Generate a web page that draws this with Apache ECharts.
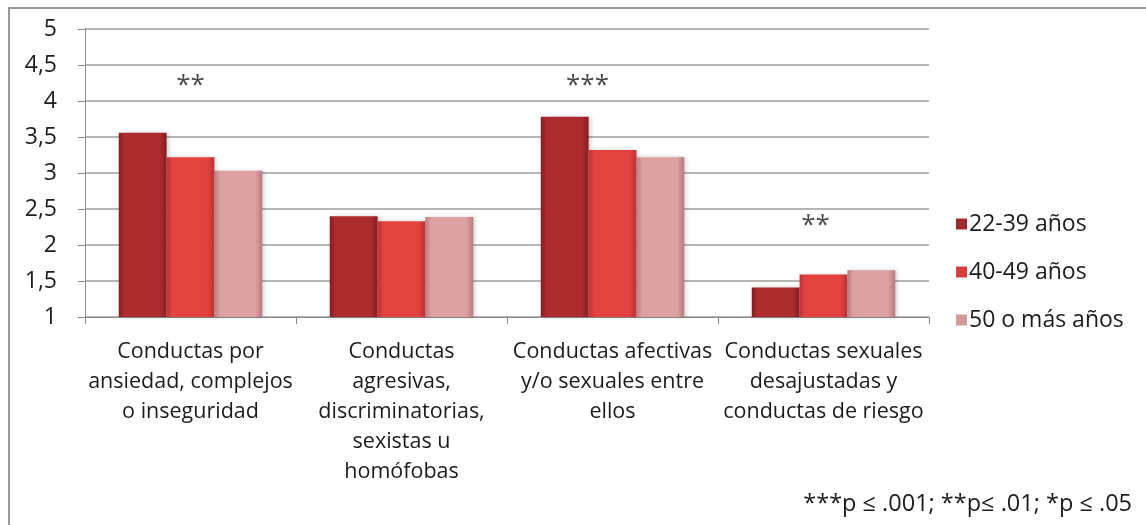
<!DOCTYPE html>
<html>
<head>
<meta charset="utf-8">
<script src="https://cdn.jsdelivr.net/npm/echarts@6/dist/echarts.min.js"></script>
<style>
  html, body { margin: 0; padding: 0; background: #ffffff; }
  #chart { width: 1146px; height: 525px; }
</style>
</head>
<body>
<div id="chart"></div>
<script>
// Categories (line breaks as shown under the axis)
const categories = [
  'Conductas por\nansiedad, complejos\no inseguridad',
  'Conductas\nagresivas,\ndiscriminatorias,\nsexistas u\nhomófobas',
  'Conductas afectivas\ny/o sexuales entre\nellos',
  'Conductas sexuales\ndesajustadas y\nconductas de riesgo'
];

// Mean scores per age group
const seriesNames = ['22-39 años', '40-49 años', '50 o más años'];
const values2239 = [3.56, 2.40, 3.78, 1.41];
const values4049 = [3.22, 2.33, 3.32, 1.59];
const values50 = [3.03, 2.39, 3.22, 1.65];

// Significance markers per category and the height they sit at
const sigMarks = ['**', '', '***', '**'];
const sigHeights = [4.22, null, 4.22, 2.27];

// Y axis tick values
const yTicks = [1, 1.5, 2, 2.5, 3, 3.5, 4, 4.5, 5];

const footnote = '***p \u2264 .001; **p\u2264 .01; *p \u2264 .05';

const FONT = 'Open Sans';
const TEXT = '#1c1c1c';

function barFill(edge, mid) {
  return {
    type: 'linear', x: 0, y: 0, x2: 1, y2: 0,
    colorStops: [
      { offset: 0, color: edge },
      { offset: 0.12, color: mid },
      { offset: 0.85, color: mid },
      { offset: 1, color: edge }
    ]
  };
}

const fills = [
  barFill('#861c20', '#ad2d2f'),
  barFill('#bf3033', '#e2433f'),
  barFill('#b9797c', '#dea1a3')
];
const legendFills = ['#a22a2d', '#d93c3c', '#d39a9c'];
const dataSets = [values2239, values4049, values50];

const barSeries = seriesNames.map((name, i) => ({
  name: name,
  type: 'bar',
  data: dataSets[i],
  barGap: '0%',
  barCategoryGap: '32%',
  itemStyle: {
    color: fills[i],
    shadowColor: 'rgba(0,0,0,0.18)',
    shadowBlur: 4,
    shadowOffsetX: 2
  },
  emphasis: { disabled: true }
}));

const sigOffsets = [[0, 0], [0, 0], [-25, 0], [-8, 0]];
const sigSeries = {
  type: 'scatter',
  symbolSize: 0,
  silent: true,
  z: 5,
  data: sigMarks.map((m, i) => ({
    value: [i, sigHeights[i]],
    label: { offset: sigOffsets[i] }
  })).filter(d => d.value[1] !== null),
  label: {
    show: true,
    position: 'inside',
    formatter: p => sigMarks[p.value[0]],
    fontFamily: FONT,
    fontSize: 26,
    color: TEXT
  }
};

const chart = echarts.init(document.getElementById('chart'), null, { renderer: 'canvas' });

chart.setOption({
  animation: false,
  backgroundColor: '#ffffff',
  grid: { left: 85, right: 217, top: 29, bottom: 208, containLabel: false },
  legend: {
    data: seriesNames.map((n, i) => ({ name: n, itemStyle: { color: legendFills[i] } })),
    orient: 'vertical',
    left: 951,
    top: 206,
    icon: 'rect',
    itemWidth: 11,
    itemHeight: 11,
    itemGap: 22,
    textStyle: { fontFamily: FONT, fontSize: 23, color: TEXT, lineHeight: 26, padding: [0, 0, 0, -3] }
  },
  xAxis: {
    type: 'category',
    data: categories,
    axisLine: { lineStyle: { color: '#8a8a8a', width: 1 } },
    axisTick: { show: true, length: 7, lineStyle: { color: '#8a8a8a' } },
    axisLabel: {
      interval: 0,
      margin: 20,
      fontFamily: FONT,
      fontSize: 21.5,
      lineHeight: 30,
      color: TEXT,
      align: 'center'
    }
  },
  yAxis: {
    type: 'value',
    min: yTicks[0],
    max: yTicks[yTicks.length - 1],
    interval: 0.5,
    axisLine: { show: true, lineStyle: { color: '#8a8a8a', width: 1 } },
    axisTick: { show: true, length: 7, lineStyle: { color: '#8a8a8a' } },
    splitLine: { show: true, lineStyle: { color: '#9c9c9c', width: 1.5 } },
    axisLabel: {
      margin: 28,
      fontFamily: FONT,
      fontSize: 23,
      color: TEXT,
      formatter: v => String(v).replace('.', ',')
    }
  },
  series: [...barSeries, sigSeries],
  graphic: [
    {
      type: 'rect',
      silent: true,
      shape: { x: 9, y: 8, width: 1300, height: 700 },
      style: { fill: 'none', stroke: '#9a9a9a', lineWidth: 2 }
    },
    {
      type: 'text',
      right: 14,
      top: 492,
      silent: true,
      style: { text: footnote, fontFamily: FONT, fontSize: 23.5, fill: TEXT }
    }
  ]
});
</script>
</body>
</html>
